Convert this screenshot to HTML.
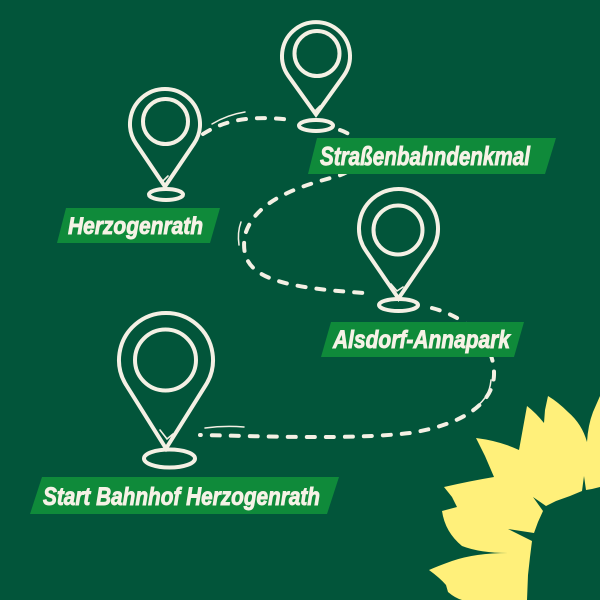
<!DOCTYPE html>
<html><head><meta charset="utf-8"><style>
html,body{margin:0;padding:0;background:#02553a;}
svg{display:block;}
text{font-family:"Liberation Sans",sans-serif;font-weight:bold;font-style:italic;fill:#f6f2e6;stroke:#f6f2e6;stroke-width:0.9;}
</style></head><body>
<svg width="600" height="600" viewBox="0 0 600 600" xmlns="http://www.w3.org/2000/svg">
<rect width="600" height="600" fill="#02553a"/>

<!-- sunflower -->
<path fill="#fff07a" d="M600,396 L593,412 Q588,425 587,442 Q582,424 568,412 Q558,402 548,396 L545,410 L544,423 Q536,413 527,406 L523,428 L519,450 Q500,441 476,438 L485,456 L494,477 Q470,481 444,487 L452,497 L457,507 L442,511 Q445,532 462,546 Q480,553 508,553 Q475,553 452,561 Q438,566 429,570 Q440,578 446,585 L448,592 Q455,598 462,600 L600,600 Z"/>
<polygon fill="#02553a" points="600,487 592,489 586,490 584,476 582,491 570,496 556,501 546,506 533,497 543,511 538,522 534,533 508,529 532,541 530,557 528,575 527,600 600,600"/>

<!-- dashed connectors -->
<g fill="none" stroke="#f4f0e4" stroke-width="4" stroke-linecap="round" stroke-dasharray="8 11">
<path d="M203,134 C225,120 250,115 292,120"/>
<path d="M340,130 C365,138 370,165 338,176 C300,186 255,200 245,235 C238,275 270,287 365,293"/>
<path d="M432,308 C470,318 495,345 494,375 C493,405 460,425 410,433 C350,440 260,436 200,435"/>
</g>
<g fill="none" stroke="#f4f0e4" stroke-width="1.5" stroke-linecap="round">
<path d="M212,124 C222,118 232,114 245,112"/>
<path d="M241,222 C238,230 238,238 239,245"/>
<path d="M491,380 C490,392 485,400 476,407"/>
<path d="M205,428 C220,426 232,426 244,427"/>
</g>

<!-- pins -->
<g fill="none" stroke="#f4f0e4" stroke-width="4" stroke-linejoin="miter">
<path d="M136,143.6 A35,35 0 1 1 194,143.6 L165,186.5 Z"/>
<circle cx="165.5" cy="121.5" r="22.5"/>
<ellipse cx="166" cy="194.5" rx="17" ry="5.5"/>

<path d="M288.3,75.8 A34,34 0 1 1 343.7,75.8 L316,114.5 Z"/>
<circle cx="317" cy="53.5" r="22.5"/>
<ellipse cx="316" cy="125.5" rx="17" ry="5.5"/>

<path d="M365.9,250.8 A39.5,39.5 0 1 1 431.1,250.8 L398.5,298.5 Z"/>
<circle cx="398" cy="230" r="24.5"/>
<ellipse cx="398.5" cy="305" rx="19.5" ry="6"/>

<path d="M126.2,385 A47,47 0 1 1 205.8,385 L166,448.5 Z"/>
<circle cx="165.5" cy="360" r="30.5"/>
<ellipse cx="169.5" cy="458.5" rx="25.5" ry="9"/>
</g>
<g fill="none" stroke="#f4f0e4" stroke-width="1.6" stroke-linecap="round">
<polyline points="157,174 163,181 168,176"/>
<polyline points="309,104 315,111 320,106"/>
<polyline points="391,284 397,291 403,287"/>
<polyline points="160,430 167,439 173,434"/>
</g>

<!-- labels -->
<g fill="#0f8a3a">
<polygon points="317,138 556,138 545,174 308,174"/>
<polygon points="66,208 220,208 210,243 57,243"/>
<polygon points="331,322 524,322 514,357 321,357"/>
<polygon points="42,477 339,477 327,514 30,514"/>
</g>
<text x="320" y="165" font-size="26" textLength="210" lengthAdjust="spacingAndGlyphs">Straßenbahndenkmal</text>
<text x="68" y="234" font-size="24" textLength="135" lengthAdjust="spacingAndGlyphs">Herzogenrath</text>
<text x="333" y="348" font-size="25" textLength="177" lengthAdjust="spacingAndGlyphs">Alsdorf-Annapark</text>
<text x="43" y="505" font-size="25" textLength="277" lengthAdjust="spacingAndGlyphs">Start Bahnhof Herzogenrath</text>
</svg>
</body></html>
